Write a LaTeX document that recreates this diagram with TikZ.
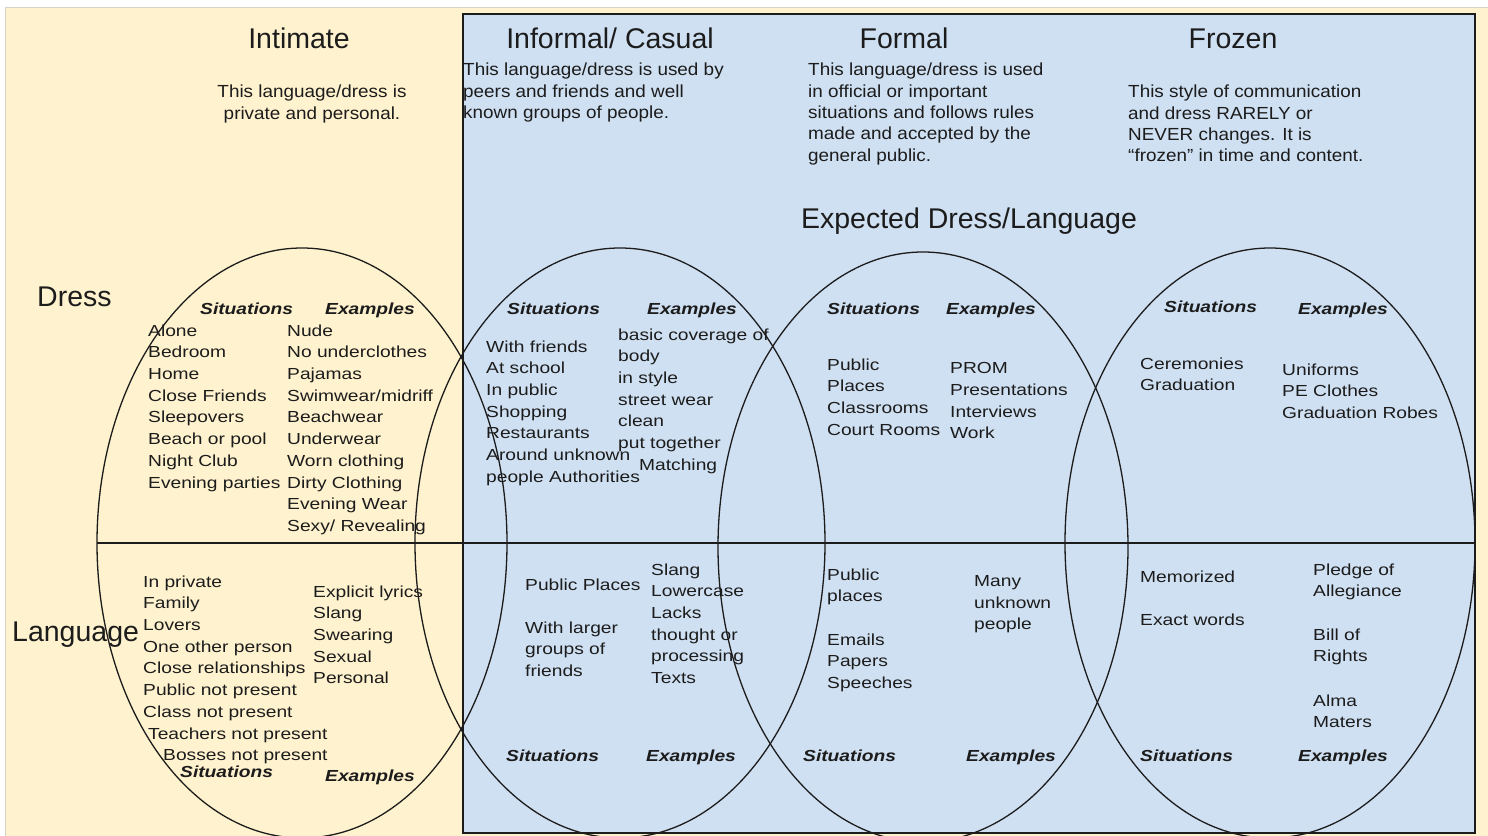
\documentclass[tikz,border=0pt]{standalone}
\usepackage{fontspec}
\setmainfont{Liberation Sans}
\newfontfamily\listfam[FakeStretch=1.2]{Liberation Sans}
\newfontfamily\blurbfam[FakeStretch=1.08]{Liberation Sans}
\definecolor{cream}{RGB}{255,242,206}
\definecolor{paleblue}{RGB}{207,224,242}
\definecolor{edgegrey}{RGB}{215,210,200}
\definecolor{ink}{RGB}{28,28,28}
\tikzset{
  lvl/.style={font=\fontsize{28.5}{34}\selectfont,inner sep=0pt,anchor=base,text=ink},
  side/.style={font=\fontsize{28.5}{34}\selectfont,inner sep=0pt,anchor=base west,text=ink},
  % first baseline sits on the given point
  blurb/.style={font=\blurbfam\fontsize{17.5}{21.3}\selectfont,inner sep=0pt,anchor=north west,yshift=11.9pt,execute at begin node=\strut,align=left,text=ink},
  entries/.style={font=\listfam\fontsize{16}{21.7}\selectfont,inner sep=0pt,anchor=north west,yshift=11.7pt,execute at begin node=\strut,align=left,text=ink},
  entry/.style={font=\listfam\fontsize{16}{21.7}\selectfont,inner sep=0pt,anchor=base west,text=ink},
  colhead/.style={entry,font=\listfam\fontsize{16}{21.7}\selectfont\bfseries\itshape},
}
\begin{document}
\begin{tikzpicture}[x=1pt,y=-1pt]
    \useasboundingbox (0,0) rectangle (1488,835);
    \fill[cream,draw=edgegrey] (5,7) rectangle (1490,840);
    \draw[fill=paleblue,draw=ink,line width=1.8pt] (463,14) rectangle (1475,833);
    %
    \coordinate (intC) at (302,543);
    \coordinate (infC) at (620,543);
    \coordinate (forC) at (923,547);
    \coordinate (froC) at (1270,543);
    \draw[ink,line width=1.3pt] (intC) ellipse [x radius=205,y radius=295];
    \draw[ink,line width=1.3pt] (infC) ellipse [x radius=205,y radius=295];
    \draw[ink,line width=1.3pt] (forC) ellipse [x radius=205,y radius=295];
    \draw[ink,line width=1.3pt] (froC) ellipse [x radius=205,y radius=295];
    \coordinate (splitL) at (97,543);
    \coordinate (splitR) at (1475,543);
    \draw[ink,line width=1.4pt] (splitL) -- (splitR);
    %
    \node[lvl] (intimate) at (299,48) {Intimate};
    \node[lvl] (informal) at (610,48) {Informal/ Casual};
    \node[lvl] (formal) at (904,48) {Formal};
    \node[lvl] (frozen) at (1233,48) {Frozen};
    \node[lvl] (expected) at (969,228) {Expected Dress/Language};
    \node[side] (dress) at (37,306) {Dress};
    \node[side] (language) at (12,641) {Language};
    %
    \node[blurb,align=center,anchor=north] (intBlurb) at (312,97) {This language/dress is\\private and personal.};
    \node[blurb] (infBlurb) at (463,75) {This language/dress is used by\\peers and friends and well\\known groups of people.};
    \node[blurb] (forBlurb) at (808,75) {This language/dress is used\\in official or important\\situations and follows rules\\made and accepted by the\\general public.};
    \node[blurb] (froBlurb) at (1128,97) {This style of communication\\and dress RARELY or\\NEVER changes. It is\\“frozen” in time and content.};
    %
    % dress half
    \node[colhead] (intDSit) at (200,314) {Situations};
    \node[colhead] (intDEx) at (325,314) {Examples};
    \node[colhead] (infDSit) at (507,314) {Situations};
    \node[colhead] (infDEx) at (647,314) {Examples};
    \node[colhead] (forDSit) at (827,314) {Situations};
    \node[colhead] (forDEx) at (946,314) {Examples};
    \node[colhead] (froDSit) at (1164,312) {Situations};
    \node[colhead] (froDEx) at (1298,314) {Examples};
    \node[entries] (intDSitList) at (148,336) {Alone\\Bedroom\\Home\\Close Friends\\Sleepovers\\Beach or pool\\Night Club\\Evening parties};
    \node[entries] (intDExList) at (287,336) {Nude\\No underclothes\\Pajamas\\Swimwear/midriff\\Beachwear\\Underwear\\Worn clothing\\Dirty Clothing\\Evening Wear\\Sexy/ Revealing};
    \node[entries] (infDSitList) at (486,352) {With friends\\At school\\In public\\Shopping\\Restaurants\\Around unknown\\people Authorities};
    \node[entries] (infDExList) at (618,340) {basic coverage of\\body\\in style\\street wear\\clean\\put together\\\hspace{21pt}Matching};
    \node[entries] (forDSitList) at (827,370) {Public\\Places\\Classrooms\\Court Rooms};
    \node[entries] (forDExList) at (950,374) {PROM\\Presentations\\Interviews\\Work};
    \node[entries] (froDSitList) at (1140,369) {Ceremonies\\Graduation};
    \node[entries] (froDExList) at (1282,375) {Uniforms\\PE Clothes\\Graduation Robes};
    %
    % language half
    \node[entries] (intLSitList) at (143,587) {In private\\Family\\Lovers\\One other person\\Close relationships\\Public not present\\Class not present\\\hspace{5pt}Teachers not present\\\hspace{20pt}Bosses not present};
    \node[entries] (intLExList) at (313,597) {Explicit lyrics\\Slang\\Swearing\\Sexual\\Personal};
    \node[entry] (infLSitA) at (525,590) {Public Places};
    \node[entries] (infLSitB) at (525,633) {With larger\\groups of\\friends};
    \node[entries] (infLExList) at (651,575) {Slang\\Lowercase\\Lacks\\thought or\\processing\\Texts};
    \node[entries] (forLSitA) at (827,580) {Public\\places};
    \node[entries] (forLSitB) at (827,645) {Emails\\Papers\\Speeches};
    \node[entries] (forLExList) at (974,587) {Many\\unknown\\people};
    \node[entry] (froLSitA) at (1140,582) {Memorized};
    \node[entry] (froLSitB) at (1140,625) {Exact words};
    \node[entries] (froLExA) at (1313,575) {Pledge of\\Allegiance};
    \node[entries] (froLExB) at (1313,640) {Bill of\\Rights};
    \node[entries] (froLExC) at (1313,706) {Alma\\Maters};
    \node[colhead] (intLSit) at (180,777) {Situations};
    \node[colhead] (intLEx) at (325,781) {Examples};
    \node[colhead] (infLSit) at (506,761) {Situations};
    \node[colhead] (infLEx) at (646,761) {Examples};
    \node[colhead] (forLSit) at (803,761) {Situations};
    \node[colhead] (forLEx) at (966,761) {Examples};
    \node[colhead] (froLSit) at (1140,761) {Situations};
    \node[colhead] (froLEx) at (1298,761) {Examples};
\end{tikzpicture}
\end{document}
